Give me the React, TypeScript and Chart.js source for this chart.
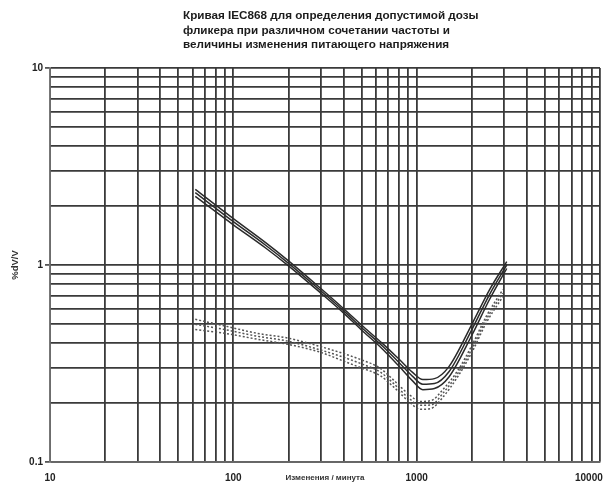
import React, { useEffect, useRef } from "react";
import { Chart, registerables } from "chart.js";

Chart.register(...registerables);

const titleLines = [
  "Кривая IEC868 для определения допустимой дозы",
  "фликера при различном сочетании частоты и",
  "величины изменения питающего напряжения",
];
const xAxisTitle = "Изменения / минута";
const yAxisTitle = "%dV/V";
const xTickLabels = [10, 100, 1000, 10000];
const yTickLabels = [0.1, 1, 10];

// Solid curves (changes per minute vs %dV/V)
const solidX = [62, 100, 150, 200, 300, 400, 500, 650, 800, 950, 1080, 1250, 1500, 2000, 2500, 3100];
const solidA = [2.42, 1.72, 1.3, 1.05, 0.76, 0.6, 0.496, 0.4, 0.333, 0.285, 0.262, 0.265, 0.305, 0.5, 0.75, 1.04];
const solidB = [2.33, 1.66, 1.26, 1.02, 0.74, 0.585, 0.482, 0.388, 0.32, 0.272, 0.248, 0.25, 0.287, 0.47, 0.71, 1.0];
const solidC = [2.23, 1.6, 1.22, 0.99, 0.72, 0.57, 0.468, 0.375, 0.307, 0.258, 0.233, 0.236, 0.27, 0.44, 0.67, 0.96];

// Dashed curves
const dashX = [62, 90, 135, 200, 300, 400, 500, 630, 750, 900, 1050, 1200, 1400, 1670, 2000, 2400, 2950];
const dashA = [0.53, 0.49, 0.45, 0.425, 0.385, 0.355, 0.33, 0.3, 0.26, 0.222, 0.203, 0.205, 0.235, 0.29, 0.39, 0.55, 0.75];
const dashB = [0.5, 0.47, 0.435, 0.41, 0.37, 0.34, 0.315, 0.287, 0.25, 0.212, 0.194, 0.195, 0.225, 0.28, 0.375, 0.53, 0.72];
const dashC = [0.47, 0.45, 0.42, 0.395, 0.36, 0.325, 0.3, 0.275, 0.24, 0.204, 0.185, 0.187, 0.215, 0.27, 0.36, 0.51, 0.69];

const FONT = '"Liberation Sans", Arial, sans-serif';

function logGrid(minExp: number, maxExp: number): number[] {
  const out: number[] = [];
  for (let e = minExp; e < maxExp; e++) {
    for (let k = 1; k <= 9; k++) {
      out.push(Math.round(k * Math.pow(10, e) * 1e6) / 1e6);
    }
  }
  out.push(Math.round(Math.pow(10, maxExp) * 1e6) / 1e6);
  return out;
}

const isPow10 = (v: number) => Math.abs(Math.log10(v) - Math.round(Math.log10(v))) < 1e-9;

function pts(xs: number[], ys: number[]) {
  return xs.map((x, i) => ({ x, y: ys[i] }));
}

const titlePlugin = {
  id: "blockTitle",
  afterDraw(chart: any) {
    const ctx = chart.ctx;
    ctx.save();
    ctx.font = `bold 11.7px ${FONT}`;
    ctx.fillStyle = "#1c1c1c";
    ctx.textAlign = "left";
    ctx.textBaseline = "middle";
    titleLines.forEach((t, i) => ctx.fillText(t, 183, 16 + i * 14.5));
    ctx.restore();
  },
};

export default function App() {
  const ref = useRef<HTMLCanvasElement | null>(null);

  useEffect(() => {
    if (!ref.current) return;
    const xGrid = logGrid(1, 4);
    const yGrid = logGrid(-1, 1);
    const solidStyle = {
      borderColor: "#2a2a2a",
      borderWidth: 1.5,
      pointRadius: 0,
      fill: false,
      cubicInterpolationMode: "monotone" as const,
    };
    const dashStyle = {
      borderColor: "#555",
      borderWidth: 1.5,
      borderDash: [2, 2],
      pointRadius: 0,
      fill: false,
      cubicInterpolationMode: "monotone" as const,
    };
    const chart = new Chart(ref.current, {
      type: "line",
      data: {
        datasets: [
          { label: "A", data: pts(solidX, solidA), ...solidStyle },
          { label: "B", data: pts(solidX, solidB), ...solidStyle },
          { label: "C", data: pts(solidX, solidC), ...solidStyle },
          { label: "D", data: pts(dashX, dashA), ...dashStyle },
          { label: "E", data: pts(dashX, dashB), ...dashStyle },
          { label: "F", data: pts(dashX, dashC), ...dashStyle },
        ],
      },
      options: {
        animation: false,
        responsive: false,
        devicePixelRatio: 1,
        layout: { padding: { top: 68, right: 8, left: 0, bottom: 0 } },
        plugins: { legend: { display: false }, tooltip: { enabled: false }, title: { display: false } },
        scales: {
          x: {
            type: "logarithmic",
            min: 10,
            max: 10000,
            afterBuildTicks: (s: any) => {
              s.ticks = xGrid.map((v) => ({ value: v, major: isPow10(v) }));
            },
            afterFit: (s: any) => {
              s.height = 22;
              s.paddingLeft = 0;
              s.paddingRight = 0;
            },
            grid: { color: "#3a3a3a", lineWidth: 1.8, drawTicks: false },
            border: { color: "#666", width: 1.5 },
            ticks: {
              autoSkip: false,
              maxRotation: 0,
              minRotation: 0,
              padding: 10,
              color: "#222",
              font: { family: FONT, size: 10, weight: "bold" },
              callback: (v: any) => {
                const n = Number(v);
                const hit = xTickLabels.find((t) => Math.abs(t - n) < 1e-6);
                if (hit === undefined) return "";
                if (hit === 10000) return "10000" + "\u00A0".repeat(8);
                return String(hit);
              },
            },
            title: {
              display: true,
              text: xAxisTitle,
              color: "#333",
              font: { family: FONT, size: 8, weight: "bold" },
              padding: { top: 0, bottom: 1 },
            },
          },
          y: {
            type: "logarithmic",
            min: 0.1,
            max: 10,
            afterBuildTicks: (s: any) => {
              s.ticks = yGrid.map((v) => ({ value: v, major: isPow10(v) }));
            },
            afterFit: (s: any) => {
              s.width = 50;
            },
            grid: {
              color: "#3a3a3a",
              lineWidth: 1.8,
              tickLength: 5,
              tickColor: (c: any) => (c.tick && c.tick.major ? "#555" : "rgba(0,0,0,0)"),
            },
            border: { color: "#777", width: 1.5 },
            ticks: {
              autoSkip: false,
              padding: 2,
              color: "#222",
              font: { family: FONT, size: 10, weight: "bold" },
              callback: (v: any) => {
                const n = Number(v);
                const hit = yTickLabels.find((t) => Math.abs(t - n) < 1e-9);
                return hit === undefined ? "" : String(hit);
              },
            },
            title: {
              display: true,
              text: yAxisTitle,
              color: "#333",
              font: { family: FONT, size: 9.5, weight: "bold" },
              padding: { top: 10, bottom: 0 },
            },
          },
        },
      },
      plugins: [titlePlugin],
    });
    return () => chart.destroy();
  }, []);

  return (
    <div style={{ position: "fixed", left: 0, top: 0, width: 608, height: 484, background: "#fff" }}>
      <canvas ref={ref} width={608} height={484} style={{ display: "block" }} />
    </div>
  );
}
